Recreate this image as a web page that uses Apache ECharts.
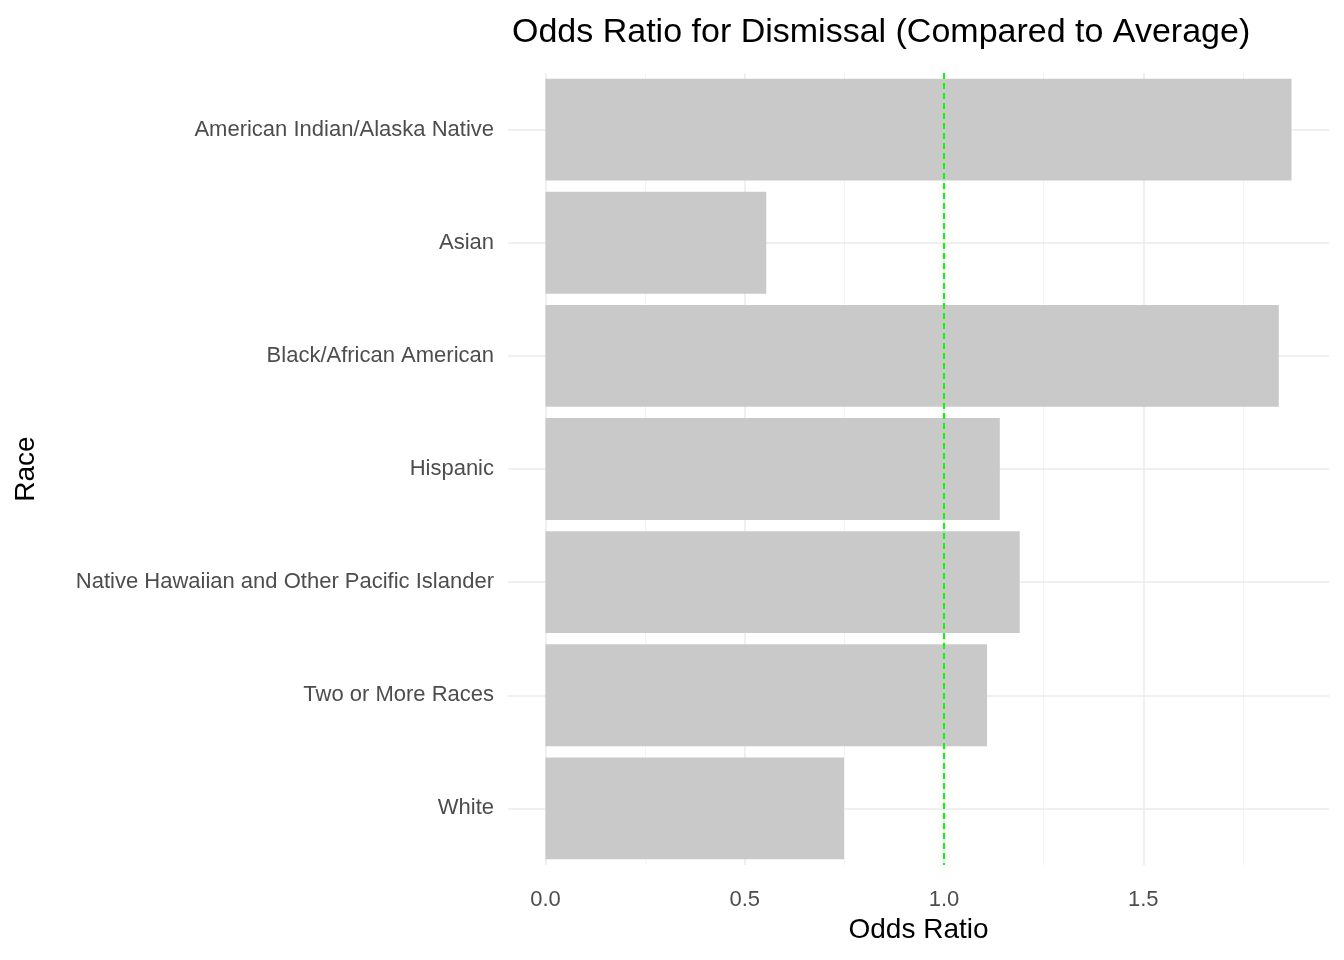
<!DOCTYPE html>
<html><head><meta charset="utf-8">
<script src="https://cdn.jsdelivr.net/npm/echarts@6/dist/echarts.min.js"></script>
<style>html,body{margin:0;padding:0;background:#fff}#c{width:1344px;height:960px}</style>
</head><body><div id="c"></div>
<script>
const categories = ["American Indian/Alaska Native","Asian","Black/African American","Hispanic","Native Hawaiian and Other Pacific Islander","Two or More Races","White"];
const oddsRatio = [1.872, 0.554, 1.840, 1.140, 1.190, 1.108, 0.749];
const majorTicks = [0, 0.5, 1.0, 1.5];
const minorTicks = [0.25, 0.75, 1.25, 1.75];
const referenceValue = 1.0;

const font = "Liberation Sans, Arial, Helvetica, sans-serif";
const chart = echarts.init(document.getElementById('c'));
const gridLines = [];
minorTicks.forEach(v => gridLines.push({xAxis: v, lineStyle: {color: '#f3f3f3', width: 1, type: 'solid'}}));
majorTicks.forEach(v => gridLines.push({xAxis: v, lineStyle: {color: '#ebebeb', width: 1.5, type: 'solid'}}));
categories.forEach(c => gridLines.push({yAxis: c, lineStyle: {color: '#ebebeb', width: 1.5, type: 'solid'}}));

chart.setOption({
  animation: false,
  title: {text: 'Odds Ratio for Dismissal (Compared to Average)', left: 507, top: 11,
    textStyle: {fontFamily: font, fontSize: 34, fontWeight: 'normal', color: '#000'}},
  grid: {left: 508, right: 15, top: 73, bottom: 95, containLabel: false},
  xAxis: {type: 'value', min: -0.094, max: 1.966,
    name: 'Odds Ratio', nameLocation: 'middle', nameGap: 51,
    nameTextStyle: {fontFamily: font, fontSize: 28, color: '#000'},
    axisLine: {show: false}, axisTick: {show: false, customValues: majorTicks},
    splitLine: {show: false},
    axisLabel: {customValues: majorTicks, formatter: v => v.toFixed(1), margin: 24,
      fontFamily: font, fontSize: 22, color: '#4d4d4d'}},
  yAxis: {type: 'category', data: categories, inverse: true,
    name: 'Race', nameLocation: 'middle', nameGap: 468, nameRotate: 90,
    nameTextStyle: {fontFamily: font, fontSize: 28, color: '#000'},
    axisLine: {show: false}, axisTick: {show: false}, splitLine: {show: false},
    axisLabel: {margin: 14, fontFamily: font, fontSize: 22, color: '#4d4d4d'}},
  series: [
    {type: 'scatter', data: [], z: 0, silent: true,
      markLine: {silent: true, symbol: 'none', z: 0, label: {show: false}, animation: false, data: gridLines}},
    {type: 'bar', data: oddsRatio, barCategoryGap: '10%', z: 3,
      itemStyle: {color: '#c9c9c9'},
      markLine: {silent: true, symbol: 'none', label: {show: false}, z: 6,
        lineStyle: {color: '#00ff00', type: [6, 4], width: 2},
        data: [{xAxis: referenceValue}]}}
  ]
});
</script></body></html>
